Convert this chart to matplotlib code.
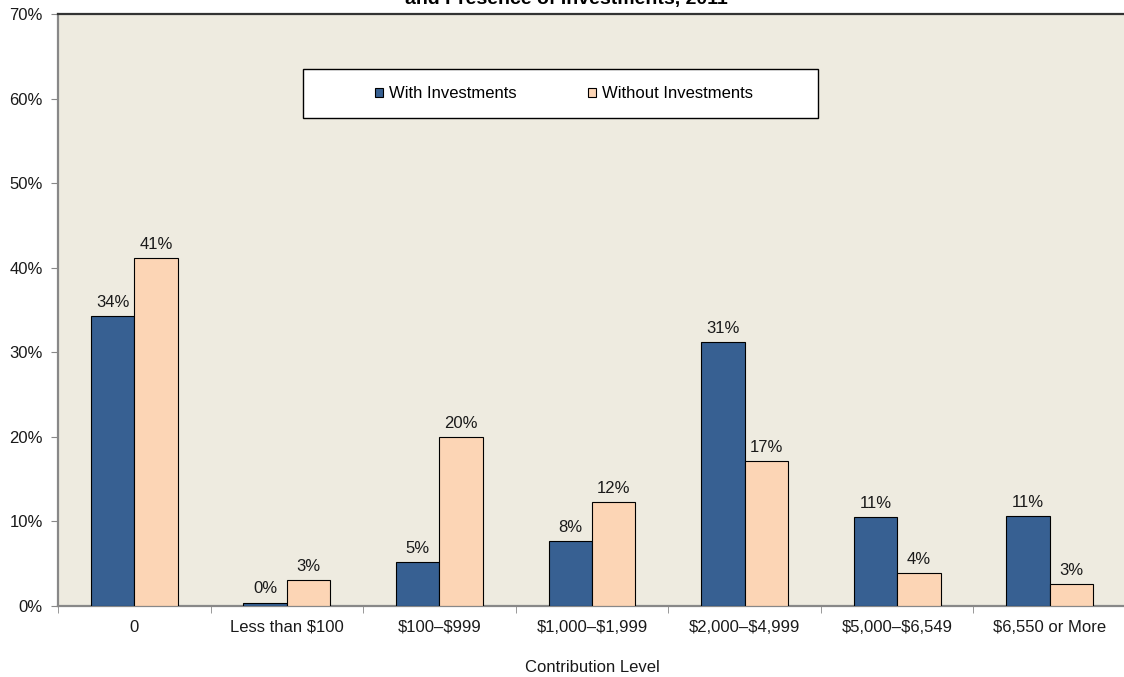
import matplotlib
matplotlib.use("Agg")
import matplotlib.pyplot as plt
from matplotlib.patches import Rectangle
import numpy as np

categories = ["0", "Less than \\$100", "\\$100\u2013\\$999", "\\$1,000\u2013\\$1,999",
              "\\$2,000\u2013\\$4,999", "\\$5,000\u2013\\$6,549", "\\$6,550 or More"]
with_inv = [34.3, 0.4, 5.2, 7.7, 31.2, 10.5, 10.6]
without_inv = [41.1, 3.1, 20.0, 12.3, 17.1, 3.9, 2.6]
with_labels = ["34%", "0%", "5%", "8%", "31%", "11%", "11%"]
without_labels = ["41%", "3%", "20%", "12%", "17%", "4%", "3%"]
series_names = ["With Investments", "Without Investments"]
yticks = [0, 10, 20, 30, 40, 50, 60, 70]

plt.rcParams["font.family"] = ["Liberation Sans", "DejaVu Sans"]
FS = 12

W, H = 1124, 677
fig = plt.figure(figsize=(W / 100, H / 100), dpi=100)
fig.patch.set_facecolor("white")
ax = fig.add_axes([58 / W, 1 - 606 / H, (1126 - 58) / W, (606 - 14) / H])
ax.set_facecolor("#EEEBE0")

x = np.arange(len(categories))
bw = 0.285
blue = "#376092"
peach = "#FCD5B5"
b1 = ax.bar(x - bw / 2, with_inv, bw, color=blue, edgecolor="black", linewidth=0.8,
            label=series_names[0], zorder=3)
b2 = ax.bar(x + bw / 2, without_inv, bw, color=peach, edgecolor="black", linewidth=0.8,
            label=series_names[1], zorder=3)

for bars, labels in ((b1, with_labels), (b2, without_labels)):
    for rect, lab in zip(bars, labels):
        ax.annotate(lab, (rect.get_x() + rect.get_width() / 2, rect.get_height()),
                    xytext=(0, 4.5), textcoords="offset points", ha="center", va="bottom",
                    fontsize=FS, color="#1a1a1a")

ax.set_xlim(-0.5, len(categories) - 0.5)
ax.set_ylim(0, 70)
ax.set_yticks(yticks)
ax.set_yticklabels([f"{v}%" for v in yticks], fontsize=FS, color="#1a1a1a")
ax.set_xticks(x)
ax.set_xticklabels(categories, fontsize=FS, color="#1a1a1a")
ax.tick_params(axis="x", length=0, pad=10)
ax.set_xticks(np.arange(-0.5, len(categories), 1.0), minor=True)
ax.tick_params(axis="x", which="minor", length=5, color="#888888", direction="out")
ax.tick_params(axis="y", length=5, color="#888888", direction="out", pad=6)

for side in ["left", "bottom"]:
    ax.spines[side].set_color("#888888")
    ax.spines[side].set_linewidth(1.6)
ax.spines["top"].set_color("#333333")
ax.spines["top"].set_linewidth(1.6)
ax.spines["right"].set_visible(False)

ax.set_xlabel("Contribution Level", fontsize=FS, color="#1a1a1a", labelpad=18)

# legend box drawn as a plain rectangle, entries centred inside it
fig.add_artist(Rectangle((303 / W, 1 - 118 / H), (818 - 303) / W, 49 / H,
                         transform=fig.transFigure, facecolor="white",
                         edgecolor="black", linewidth=1.0, zorder=4))
leg = fig.legend(handles=[b1, b2], loc="center", bbox_to_anchor=(564 / W, 1 - 94 / H),
                 ncol=2, frameon=False, fontsize=FS, handlelength=0.5, handleheight=0.5,
                 handletextpad=0.36, columnspacing=4.25)
leg.set_zorder(5)

fig.text(566 / W, 1 - 4 / H, "and Presence of Investments, 2011", ha="center",
         va="baseline", fontsize=14, fontweight="bold", color="black")

fig.savefig("out.png", dpi=100, facecolor="white")
